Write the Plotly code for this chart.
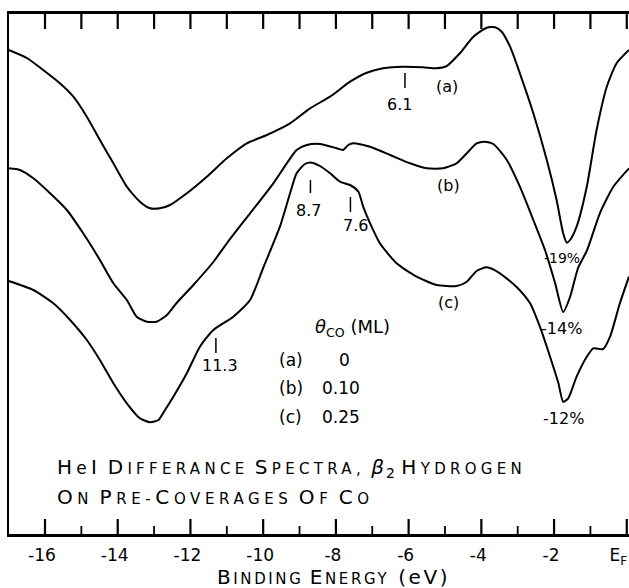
import plotly.graph_objects as go

# ---------------- data (binding energy in eV, difference intensity in arb. units) -------------
energy_a = [-17.0, -16.5, -16.05, -15.59, -15.22, -14.85, -14.49, -14.12, -13.75, -13.39, -13.11,
            -12.84, -12.56, -12.10, -11.55, -11.0, -10.45, -9.90, -9.26, -8.71, -8.16, -7.61,
            -7.15, -6.70, -6.15, -5.60, -5.23, -4.95, -4.59, -4.22, -3.85, -3.62, -3.44, -3.21,
            -2.94, -2.57, -2.20, -1.93, -1.75, -1.65, -1.56, -1.38, -1.10, -0.83, -0.55, -0.28, 0.06]
signal_a = [48.4, 47.6, 46.4, 45.07, 43.73, 41.73, 39.4, 37.07, 34.73, 33.23, 32.57,
            32.57, 32.9, 34.07, 35.73, 37.57, 39.07, 39.9, 41.07, 42.57, 43.73, 45.23,
            46.13, 46.57, 46.73, 46.67, 46.57, 46.8, 48.07, 49.73, 50.63, 50.67, 50.23, 48.73,
            46.07, 42.07, 37.4, 33.4, 30.07, 29.13, 29.4, 30.73, 34.73, 40.4, 44.73, 47.07, 48.4]

energy_b = [-17.0, -16.69, -16.32, -15.86, -15.40, -14.95, -14.49, -14.12, -13.75, -13.48, -13.20,
            -12.93, -12.65, -12.38, -11.92, -11.37, -11.0, -10.36, -9.72, -9.35, -9.08, -8.80,
            -8.44, -7.98, -7.80, -7.66, -7.52, -7.06, -6.51, -5.96, -5.50, -5.05, -4.68, -4.40,
            -4.13, -3.90, -3.67, -3.30, -2.94, -2.57, -2.25, -1.97, -1.75, -1.56, -1.34, -1.09,
            -0.74, -0.37, 0.06]
signal_b = [36.57, 36.4, 35.57, 34.07, 32.4, 30.07, 27.4, 25.07, 23.4, 21.73, 21.23,
            21.23, 21.9, 23.1, 24.9, 27.2, 29.07, 32.07, 35.07, 37.07, 38.4, 38.9,
            39.0, 38.57, 38.4, 38.9, 39.07, 38.73, 37.9, 37.07, 36.57, 36.57, 37.07, 38.07,
            39.07, 39.23, 39.0, 37.4, 34.73, 31.4, 28.4, 25.07, 22.2, 23.7, 26.6, 28.4,
            32.07, 34.73, 36.57]

energy_c = [-17.0, -16.32, -15.77, -15.31, -14.85, -14.49, -14.12, -13.75, -13.39, -13.11, -12.88,
            -12.70, -12.47, -12.10, -11.74, -11.37, -10.82, -10.36, -10.0, -9.54, -9.26, -9.08,
            -8.85, -8.66, -8.44, -8.16, -7.89, -7.61, -7.38, -7.25, -7.06, -6.79, -6.33, -5.78,
            -5.23, -4.68, -4.40, -4.13, -3.85, -3.49, -3.03, -2.66, -2.39, -2.11, -1.88, -1.75,
            -1.61, -1.38, -1.10, -0.92, -0.65, -0.46, -0.19, 0.06]
signal_c = [25.3, 24.4, 23.07, 21.4, 19.4, 17.4, 15.07, 13.07, 11.57, 11.17, 11.4,
            12.4, 13.73, 16.07, 18.73, 20.4, 21.73, 23.4, 26.6, 30.73, 34.07, 36.07,
            37.0, 37.13, 36.8, 36.07, 35.23, 34.9, 34.23, 32.73, 31.07, 29.07, 27.07, 25.73,
            24.9, 24.8, 25.23, 26.3, 26.67, 26.07, 24.7, 23.07, 20.73, 17.73, 15.07, 13.23,
            13.57, 15.73, 17.73, 18.57, 18.5, 19.73, 23.07, 25.73]

curve_names = ["(a)", "(b)", "(c)"]
coverages = ["0", "0.10", "0.25"]            # theta_CO in ML
peak_energies = [-6.1, -8.7, -7.6, -11.3]     # marked features (eV)
peak_labels = ["6.1", "8.7", "7.6", "11.3"]
dip_labels = ["-19%", "-14%", "-12%"]

tick_values = [-16, -14, -12, -10, -8, -6, -4, -2, 0]
tick_labels = ["-16", "-14", "-12", "-10", "-8", "-6", "-4", "-2", "E<sub>F</sub>&nbsp;&nbsp;"]
minor_tick_values = [-15, -13, -11, -9, -7, -5, -3, -1]
top_tick_values = list(range(-16, 1))

# ---------------- figure -------------
FONT = "DejaVu Sans"
Y_RANGE = [0, 52]
XR = [-16.99, 0.061]
fig = go.Figure()
for e, s, n in zip([energy_a, energy_b, energy_c], [signal_a, signal_b, signal_c], curve_names):
    fig.add_trace(go.Scatter(x=e, y=s, mode="lines", name=n,
                             line=dict(color="black", width=2, shape="spline", smoothing=0.6),
                             hoverinfo="skip"))

# frame tick marks drawn as line segments from the tick lists
def tick_segments(values, y_base, length):
    xs, ys = [], []
    for v in values:
        xs += [v, v, None]
        ys += [y_base, y_base + length, None]
    return xs, ys

for vals, base, ln, w in [(tick_values, Y_RANGE[0], 1.5, 2.2),
                          (minor_tick_values, Y_RANGE[0], 0.8, 1.8),
                          (top_tick_values, Y_RANGE[1], -1.5, 2.2)]:
    xs, ys = tick_segments(vals, base, ln)
    fig.add_trace(go.Scatter(x=xs, y=ys, mode="lines", line=dict(color="black", width=w),
                             cliponaxis=False, hoverinfo="skip", connectgaps=False))

fig.update_layout(
    width=629, height=588,
    margin=dict(l=9, r=0, t=14, b=54, autoexpand=False),
    paper_bgcolor="white", plot_bgcolor="white",
    showlegend=False,
    font=dict(family=FONT, color="black"),
    xaxis=dict(range=XR, showgrid=False, zeroline=False, automargin=False,
               showline=True, linecolor="black", linewidth=2.5, mirror=True,
               ticks="", tickmode="array", tickvals=tick_values, ticktext=tick_labels,
               ticklabeloverflow="allow", ticklabelshift=-3, ticklabelstandoff=4,
               tickfont=dict(family=FONT, size=17, color="black")),
    yaxis=dict(range=Y_RANGE, showgrid=False, zeroline=False, showticklabels=False,
               automargin=False,
               showline=True, linecolor="black", linewidth=2, ticks=""),
)

def sc(word, big=20, small=15, ls=4.3):
    return (f"<span style='font-size:{big}px;letter-spacing:{ls}px'>{word[0]}</span>"
            f"<span style='font-size:{small}px;letter-spacing:{ls}px'>{word[1:]}</span>")

SP = "<span style='font-size:20px'> </span>"

def ann(x, y, text, size=16, xanchor="center", xref="x", yref="y"):
    fig.add_annotation(x=x, y=y, xref=xref, yref=yref, text=text, showarrow=False,
                       xanchor=xanchor, yanchor="middle",
                       font=dict(family=FONT, size=size, color="black"))

# curve labels
for (x, y), t in zip([(-4.95, 44.8), (-4.91, 34.9), (-4.91, 23.2)], curve_names):
    ann(x, y, t, 16)

# peak markers
marker_spans = [(44.6, 46.1), (34.1, 35.4), (32.2, 33.7), (18.1, 19.6)]
label_pos = [(-6.24, 43.0), (-8.76, 32.4), (-7.47, 30.9), (-11.2, 16.9)]
for e, (y0, y1), (lx, ly), t in zip(peak_energies, marker_spans, label_pos, peak_labels):
    fig.add_shape(type="line", x0=e, x1=e, y0=y0, y1=y1, xref="x", yref="y",
                  line=dict(color="black", width=1.5))
    ann(lx, ly, t, 16)

# dip depths
for (x, y), t, sz in zip([(-1.79, 27.6), (-1.79, 20.6), (-1.75, 11.6)], dip_labels, [14, 16, 16]):
    ann(x, y, t, sz)

# legend block
ann(-8.63, 20.6, "<i>θ</i><sub>CO</sub> (ML)", 18, xanchor="left")
for (yy, n, c) in zip([17.4, 14.6, 11.7], curve_names, coverages):
    ann(-9.62, yy, n, 17, xanchor="left")
    ann(-8.44 if c != "0" else -7.97, yy, c, 17, xanchor="left")

# caption
line1 = ("<span style='font-size:20px;letter-spacing:4.3px'>H</span>"
         "<span style='font-size:17px;letter-spacing:4.3px'>e</span>"
         "<span style='font-size:20px;letter-spacing:4.3px'>I</span>" + SP
         + sc("DIFFERANCE") + SP + sc("SPECTRA,") + SP
         + "<span style='font-size:20px;letter-spacing:2px'><i>β</i></span><sub>2</sub>"
         + SP + sc("HYDROGEN"))
line2 = (sc("ON", ls=4.6) + SP + sc("PRE-", ls=4.6) + sc("COVERAGES", ls=4.6) + SP
         + sc("OF", ls=4.6) + SP + sc("CO", ls=4.6))
ann(-15.72, 6.6, line1, 20, xanchor="left")
ann(-15.72, 3.7, line2, 20, xanchor="left")

# axis title
title = (sc("BINDING", 20, 15, 2.6) + SP + sc("ENERGY", 20, 15, 2.6)
         + "<span style='font-size:20px;letter-spacing:2.6px'> (eV)</span>")
fig.add_annotation(x=(333 - 9) / 620, y=-(577 - 534) / 520, xref="paper", yref="paper",
                   text=title, showarrow=False, xanchor="center", yanchor="middle",
                   font=dict(family=FONT, size=20, color="black"))

fig.write_html("out.html", config={"displayModeBar": False},
               post_script="document.body.style.margin='0';document.body.style.overflow='hidden';")
